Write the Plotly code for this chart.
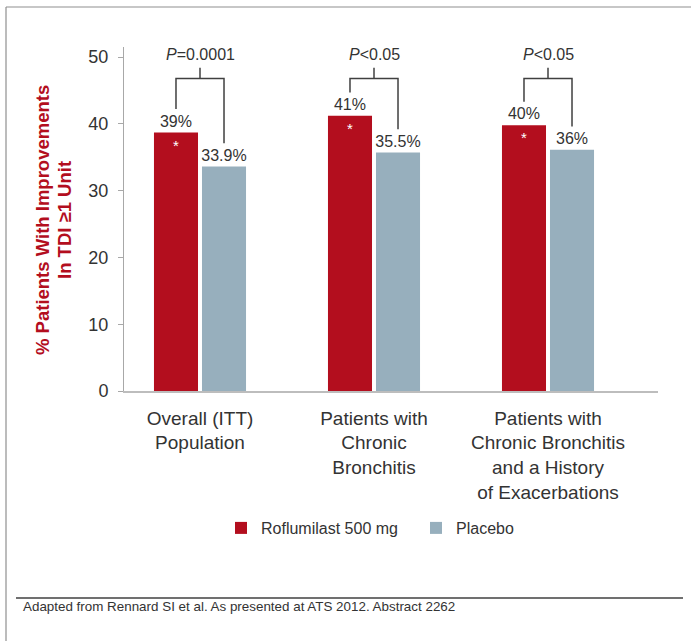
import plotly.graph_objects as go

# ---------------- data ----------------
categories = ["Overall (ITT)<br>Population",
              "Patients with<br>Chronic<br>Bronchitis",
              "Patients with<br>Chronic Bronchitis<br>and a History<br>of Exacerbations"]
roflumilast = [38.7, 41.2, 39.8]
placebo = [33.6, 35.7, 36.1]
roflumilast_labels = ["39%", "41%", "40%"]
placebo_labels = ["33.9%", "35.5%", "36%"]
p_values = ["<i>P</i>=0.0001", "<i>P</i><0.05", "<i>P</i><0.05"]
series_names = ["Roflumilast 500 mg", "Placebo"]
y_ticks = [0, 10, 20, 30, 40, 50]
y_title_lines = ["% Patients With Improvements", "In TDI \u22651 Unit"]
footer = "Adapted from Rennard SI et al. As presented at ATS 2012. Abstract 2262"

# ---------------- style ----------------
FONT = "Arial, Liberation Sans, sans-serif"
RED = "#B30E1E"
GREY_BAR = "#97AFBD"
TXT = "#333333"
W, H = 691, 641
L, R, T, B = 124, 33, 47, 250
PW, PH = W - L - R, H - T - B
BARGAP, GROUPGAP = 0.448, 0.083
slot = (1 - BARGAP) / 2
x_idx = list(range(len(categories)))


def px_x(px):
    return (px - L) / PW


def px_y(py):
    return (H - B - py) / PH


fig = go.Figure()
fig.add_trace(go.Bar(x=x_idx, y=roflumilast, name=series_names[0],
                     marker=dict(color=RED, line=dict(width=0)),
                     text=roflumilast_labels, textposition="outside",
                     textfont=dict(size=16, color=TXT, family=FONT),
                     constraintext="none", cliponaxis=False))
fig.add_trace(go.Bar(x=x_idx, y=placebo, name=series_names[1],
                     marker=dict(color=GREY_BAR, line=dict(width=0)),
                     text=placebo_labels, textposition="outside",
                     textfont=dict(size=16, color=TXT, family=FONT),
                     constraintext="none", cliponaxis=False))

shapes = []
annotations = []
BR_TOP, STUB_TOP, GAP = 46.8, 48.4, 3.5
LINE = dict(color="#404040", width=1.5)
for i, (r, p, pv) in enumerate(zip(roflumilast, placebo, p_values)):
    xl, xr = i - slot / 2, i + slot / 2
    shapes.append(dict(type="path", xref="x", yref="y",
                       path=f"M{xl},{r + GAP} L{xl},{BR_TOP} L{xr},{BR_TOP} L{xr},{p + GAP}",
                       line=LINE))
    shapes.append(dict(type="line", xref="x", yref="y", x0=i, x1=i,
                       y0=BR_TOP, y1=STUB_TOP, line=LINE))
    annotations.append(dict(x=i, y=STUB_TOP, xref="x", yref="y", text=pv,
                            showarrow=False, yanchor="bottom", yshift=3,
                            font=dict(size=16, color=TXT, family=FONT)))
    annotations.append(dict(x=xl, y=r, xref="x", yref="y", text="*",
                            showarrow=False, yanchor="top", yshift=-2,
                            font=dict(size=15, color="white", family=FONT)))

# y-axis title (two lines)
for line_txt, cx in zip(y_title_lines, [42, 64]):
    annotations.append(dict(x=px_x(cx), y=px_y(220), xref="paper", yref="paper",
                            text=f"<b>{line_txt}</b>",
                            textangle=-90, showarrow=False, xanchor="center", yanchor="middle",
                            font=dict(size=18.5, color=RED, family=FONT)))
# footer
annotations.append(dict(x=px_x(21), y=px_y(606), xref="paper", yref="paper",
                        text=footer, showarrow=False, xanchor="left", yanchor="middle",
                        font=dict(size=13.4, color=TXT, family=FONT)))

# frame + footer rule
FRAME = dict(color="#8F8F8F", width=1.2)
shapes.append(dict(type="line", xref="paper", yref="paper", x0=px_x(6), x1=px_x(W),
                   y0=px_y(7), y1=px_y(7), line=FRAME))
shapes.append(dict(type="line", xref="paper", yref="paper", x0=px_x(6), x1=px_x(6),
                   y0=px_y(7), y1=px_y(H), line=FRAME))
shapes.append(dict(type="line", xref="paper", yref="paper", x0=px_x(16), x1=px_x(683),
                   y0=px_y(598), y1=px_y(598), line=dict(color="#404040", width=1.3)))

xrange = [(L - 200) / 174, (W - R - 200) / 174]

fig.update_layout(
    width=W, height=H, margin=dict(l=L, r=R, t=T, b=B, pad=0),
    paper_bgcolor="white", plot_bgcolor="white",
    font=dict(family=FONT, color=TXT, size=16),
    barmode="group", bargap=BARGAP, bargroupgap=GROUPGAP,
    showlegend=True,
    legend=dict(orientation="h", x=px_x(221), xanchor="left", y=px_y(528), yanchor="middle",
                font=dict(size=16, color=TXT, family=FONT), entrywidth=150,
                bgcolor="rgba(0,0,0,0)"),
    xaxis=dict(range=xrange, tickvals=x_idx, ticktext=categories, ticks="",
               showline=True, linecolor="#BDBDBD", linewidth=1.5, showgrid=False,
               zeroline=False, tickfont=dict(size=19, color=TXT, family=FONT),
               ticklabelstandoff=9, fixedrange=True),
    xaxis2=dict(range=xrange, overlaying="x", tickvals=[0.5, 1.5], ticks="outside",
                ticklen=5, tickcolor="#A8A8A8", tickwidth=1, showticklabels=False,
                showline=False, showgrid=False, zeroline=False, side="bottom", anchor="y"),
    yaxis=dict(range=[0, 51.5], tickvals=y_ticks, ticks="outside", ticklen=5,
               tickcolor="#A8A8A8", showline=True, linecolor="#A8A8A8", linewidth=1,
               showgrid=False, zeroline=False,
               tickfont=dict(size=18, color=TXT, family=FONT), ticklabelstandoff=6),
    shapes=shapes, annotations=annotations,
)

fig.write_html("out.html")
